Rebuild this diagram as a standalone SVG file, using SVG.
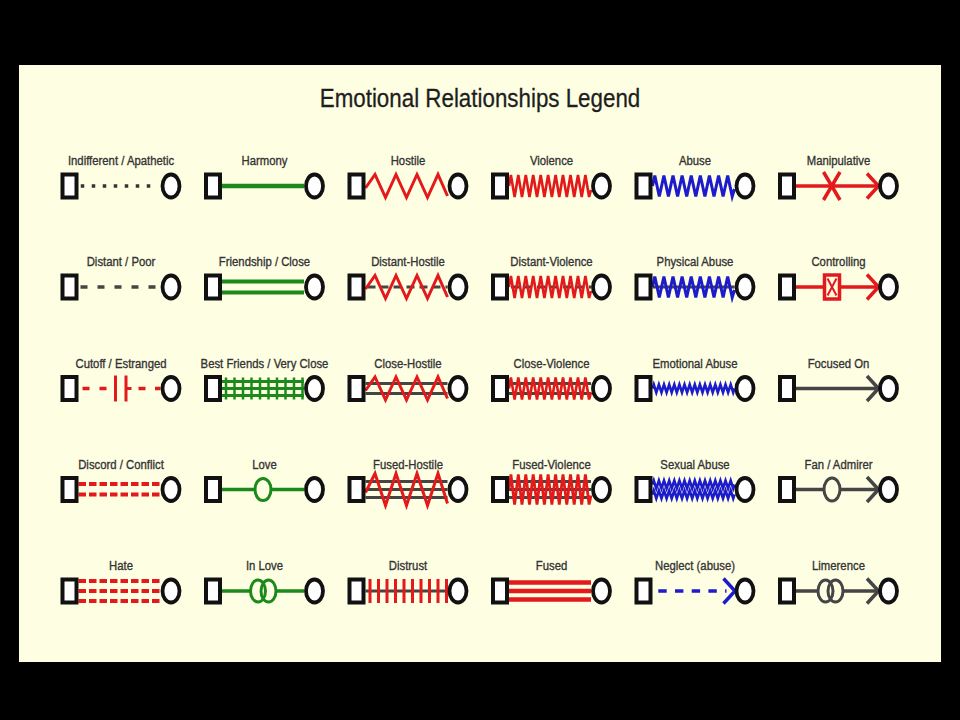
<svg xmlns="http://www.w3.org/2000/svg" xmlns:xlink="http://www.w3.org/1999/xlink" width="960" height="720" viewBox="0 0 960 720">
<style>
.lbl{font-family:"Liberation Sans",Arial,sans-serif;font-size:13.5px;fill:#333;stroke:#333;stroke-width:0.35px;text-anchor:middle}
.ttl{font-family:"Liberation Sans",Arial,sans-serif;font-size:26px;fill:#1e1e1e;stroke:#1e1e1e;stroke-width:0.3px;text-anchor:middle}
.red{stroke:#e3191b;fill:none}
.grn{stroke:#1b8a1b;fill:none}
.blu{stroke:#1c1ccc;fill:none}
.gry{stroke:#454545;fill:none}
.dk{stroke:#333;fill:none}
.w3{stroke-width:3}
.w35{stroke-width:3.5}
.w4{stroke-width:4}
</style>
<defs>
<rect id="sq" x="2" y="-11.5" width="14" height="23" fill="#fff" stroke="#111" stroke-width="4"/>
<ellipse id="ci" cx="110.5" cy="0" rx="8.5" ry="11.5" fill="#fff" stroke="#111" stroke-width="3.8"/>
<polyline id="zzH" fill="none" points="18,2 27.5,-11.5 38,11.5 48.5,-11.5 59,11.5 69.5,-11.5 80,11.5 90.5,-11.5 100,10"/>
<polyline id="zzHF" fill="none" points="18,3 27.5,-16 38,16 48.5,-16 59,16 69.5,-16 80,16 90.5,-16 100,14"/>
<polyline id="zzV" fill="none" points="18,0 19.9,-11 23.6,11 27.3,-11 31,11 34.8,-11 38.5,11 42.2,-11 46,11 49.7,-11 53.4,11 57.1,-11 60.9,11 64.6,-11 68.3,11 72,-11 75.8,11 79.5,-11 83.2,11 87,-11 90.7,11 94.4,-11 98.1,11 100,4"/>
<polyline id="zzVF" fill="none" points="18,0 19.9,-15 23.6,15 27.3,-15 31,15 34.8,-15 38.5,15 42.2,-15 46,15 49.7,-15 53.4,15 57.1,-15 60.9,15 64.6,-15 68.3,15 72,-15 75.8,15 79.5,-15 83.2,15 87,-15 90.7,15 94.4,-15 98.1,15 100,6"/>
<polyline id="zzA" fill="none" points="18,0 20.3,-10.5 24.8,10.5 29.4,-10.5 33.9,10.5 38.5,-10.5 43.1,10.5 47.6,-10.5 52.2,10.5 56.7,-10.5 61.3,10.5 65.8,-10.5 70.4,10.5 74.9,-10.5 79.5,10.5 84.1,-10.5 88.6,10.5 93.2,-10.5 97.7,10.5 100,3"/>
<polyline id="zzE" fill="none" points="18,0 19.3,-4 21.8,4 24.4,-4 27,4 29.5,-4 32.1,4 34.7,-4 37.2,4 39.8,-4 42.3,4 44.9,-4 47.5,4 50,-4 52.6,4 55.2,-4 57.7,4 60.3,-4 62.8,4 65.4,-4 68,4 70.5,-4 73.1,4 75.7,-4 78.2,4 80.8,-4 83.3,4 85.9,-4 88.5,4 91,-4 93.6,4 96.2,-4 98.7,4 100,0"/>
<path id="chev" fill="none" d="M89,-12.5 L100.5,0 L89,12.5"/>
</defs>

<rect x="0" y="0" width="960" height="720" fill="#000"/>
<rect x="19" y="65" width="922" height="597" fill="#fefee3"/>
<text class="ttl" transform="translate(480 107) scale(0.86 1)">Emotional Relationships Legend</text>

<g id="connectors"></g>

<!-- Column 1 -->
<g id="indifferent" transform="translate(60.5 186)">
<text class="lbl" transform="translate(60.5 -21) scale(0.84 1)">Indifferent / Apathetic</text>
<line x1="20.25" y1="0" x2="90" y2="0" class="dk w35" stroke-dasharray="3.5 7.5"/>
<use href="#sq"/><use href="#ci"/>
</g>
<g id="distant" transform="translate(60.5 287)">
<text class="lbl" transform="translate(60.5 -21) scale(0.84 1)">Distant / Poor</text>
<line x1="20" y1="0" x2="95" y2="0" class="gry w35" stroke-dasharray="7 10"/>
<use href="#sq"/><use href="#ci"/>
</g>
<g id="cutoff" transform="translate(60.5 388.5)">
<text class="lbl" transform="translate(60.5 -21) scale(0.84 1)">Cutoff / Estranged</text>
<line x1="22" y1="0" x2="46" y2="0" class="red w35" stroke-dasharray="7 10"/>
<path d="M55,-13 V13 M65.5,-13 V13 M65.5,0 H71" class="red w3"/>
<line x1="78" y1="0" x2="100" y2="0" class="red w35" stroke-dasharray="7 9.5"/>
<use href="#sq"/><use href="#ci"/>
</g>
<g id="discord" transform="translate(60.5 489.5)">
<text class="lbl" transform="translate(60.5 -21) scale(0.84 1)">Discord / Conflict</text>
<path d="M18,-5.5 H100 M18,5 H100" class="red w4" stroke-dasharray="7.5 3"/>
<use href="#sq"/><use href="#ci"/>
</g>
<g id="hate" transform="translate(60.5 591)">
<text class="lbl" transform="translate(60.5 -21) scale(0.84 1)">Hate</text>
<path d="M18,-10 H100 M18,0 H100 M18,10 H100" class="red w4" stroke-dasharray="7.5 3"/>
<use href="#sq"/><use href="#ci"/>
</g>

<!-- Column 2 -->
<g id="harmony" transform="translate(204 186)">
<text class="lbl" transform="translate(60.5 -21) scale(0.84 1)">Harmony</text>
<line x1="18" y1="0" x2="100" y2="0" class="grn" stroke-width="4.5"/>
<use href="#sq"/><use href="#ci"/>
</g>
<g id="friendship" transform="translate(204 287)">
<text class="lbl" transform="translate(60.5 -21) scale(0.84 1)">Friendship / Close</text>
<path d="M18,-5.5 H100 M18,5.5 H100" class="grn w4"/>
<use href="#sq"/><use href="#ci"/>
</g>
<g id="best-friends" transform="translate(204 388.5)">
<text class="lbl" transform="translate(60.5 -21) scale(0.84 1)">Best Friends / Very Close</text>
<path d="M18,-7 H100 M18,0 H100 M18,7 H100" class="grn w3"/>
<path d="M22,-11 V11 M30.5,-11 V11 M39,-11 V11 M47.5,-11 V11 M56,-11 V11 M64.5,-11 V11 M73,-11 V11 M81.5,-11 V11 M90,-11 V11 M98.5,-11 V11" class="grn" stroke-width="2.5"/>
<use href="#sq"/><use href="#ci"/>
</g>
<g id="love" transform="translate(204 489.5)">
<text class="lbl" transform="translate(60.5 -21) scale(0.84 1)">Love</text>
<line x1="18" y1="0" x2="100" y2="0" class="grn w35"/>
<ellipse cx="59" cy="0" rx="8" ry="11" fill="#fefee3" stroke="#1b8a1b" stroke-width="3"/>
<use href="#sq"/><use href="#ci"/>
</g>
<g id="in-love" transform="translate(204 591)">
<text class="lbl" transform="translate(60.5 -21) scale(0.84 1)">In Love</text>
<path d="M18,0 H46 M72,0 H100" class="grn w35"/>
<ellipse cx="54" cy="0" rx="7.5" ry="11" class="grn w3"/>
<ellipse cx="64.5" cy="0" rx="7.5" ry="11" class="grn w3"/>
<use href="#sq"/><use href="#ci"/>
</g>

<!-- Column 3 -->
<g id="hostile" transform="translate(347.5 186)">
<text class="lbl" transform="translate(60.5 -21) scale(0.84 1)">Hostile</text>
<use href="#zzH" class="red w3"/>
<use href="#sq"/><use href="#ci"/>
</g>
<g id="distant-hostile" transform="translate(347.5 287)">
<text class="lbl" transform="translate(60.5 -21) scale(0.84 1)">Distant-Hostile</text>
<line x1="20" y1="0" x2="100" y2="0" class="gry w3" stroke-dasharray="8 5"/>
<use href="#zzH" class="red w3"/>
<use href="#sq"/><use href="#ci"/>
</g>
<g id="close-hostile" transform="translate(347.5 388.5)">
<text class="lbl" transform="translate(60.5 -21) scale(0.84 1)">Close-Hostile</text>
<path d="M18,-5 H100 M18,5 H100" class="gry w3"/>
<use href="#zzH" class="red w3"/>
<use href="#sq"/><use href="#ci"/>
</g>
<g id="fused-hostile" transform="translate(347.5 489.5)">
<text class="lbl" transform="translate(60.5 -21) scale(0.84 1)">Fused-Hostile</text>
<path d="M18,-8 H100 M18,0 H100 M18,8 H100" class="gry w3"/>
<use href="#zzHF" class="red w3"/>
<use href="#sq"/><use href="#ci"/>
</g>
<g id="distrust" transform="translate(347.5 591)">
<text class="lbl" transform="translate(60.5 -21) scale(0.84 1)">Distrust</text>
<line x1="18" y1="0" x2="100" y2="0" class="gry w3"/>
<path d="M22.5,-12 V12 M31,-12 V12 M39.5,-12 V12 M48,-12 V12 M56.5,-12 V12 M65,-12 V12 M73.5,-12 V12 M82,-12 V12 M90.5,-12 V12 M99,-12 V12" class="red w3"/>
<use href="#sq"/><use href="#ci"/>
</g>

<!-- Column 4 -->
<g id="violence" transform="translate(491 186)">
<text class="lbl" transform="translate(60.5 -21) scale(0.84 1)">Violence</text>
<use href="#zzV" class="red" stroke-width="2.6"/>
<use href="#sq"/><use href="#ci"/>
</g>
<g id="distant-violence" transform="translate(491 287)">
<text class="lbl" transform="translate(60.5 -21) scale(0.84 1)">Distant-Violence</text>
<line x1="20" y1="0" x2="100" y2="0" class="gry w3" stroke-dasharray="8 5"/>
<use href="#zzV" class="red" stroke-width="2.6"/>
<use href="#sq"/><use href="#ci"/>
</g>
<g id="close-violence" transform="translate(491 388.5)">
<text class="lbl" transform="translate(60.5 -21) scale(0.84 1)">Close-Violence</text>
<path d="M18,-5 H100 M18,5 H100" class="gry w3"/>
<use href="#zzV" class="red" stroke-width="2.6"/>
<use href="#sq"/><use href="#ci"/>
</g>
<g id="fused-violence" transform="translate(491 489.5)">
<text class="lbl" transform="translate(60.5 -21) scale(0.84 1)">Fused-Violence</text>
<path d="M18,-8 H100 M18,0 H100 M18,8 H100" class="gry w3"/>
<use href="#zzVF" class="red" stroke-width="2.8"/>
<use href="#sq"/><use href="#ci"/>
</g>
<g id="fused" transform="translate(491 591)">
<text class="lbl" transform="translate(60.5 -21) scale(0.84 1)">Fused</text>
<path d="M18,-8.5 H100 M18,0 H100 M18,8.5 H100" class="red" stroke-width="4.5"/>
<use href="#sq"/><use href="#ci"/>
</g>

<!-- Column 5 -->
<g id="abuse" transform="translate(634.5 186)">
<text class="lbl" transform="translate(60.5 -21) scale(0.84 1)">Abuse</text>
<use href="#zzA" class="blu w3"/>
<use href="#sq"/><use href="#ci"/>
</g>
<g id="physical-abuse" transform="translate(634.5 287)">
<text class="lbl" transform="translate(60.5 -21) scale(0.84 1)">Physical Abuse</text>
<line x1="18" y1="0" x2="100" y2="0" class="gry w3"/>
<use href="#zzA" class="blu w3"/>
<use href="#sq"/><use href="#ci"/>
</g>
<g id="emotional-abuse" transform="translate(634.5 388.5)">
<text class="lbl" transform="translate(60.5 -21) scale(0.84 1)">Emotional Abuse</text>
<use href="#zzE" class="blu" stroke-width="2.6"/>
<use href="#sq"/><use href="#ci"/>
</g>
<g id="sexual-abuse" transform="translate(634.5 489.5)">
<text class="lbl" transform="translate(60.5 -21) scale(0.84 1)">Sexual Abuse</text>
<use href="#zzE" class="blu" stroke-width="2.6" transform="translate(0 -5)"/>
<use href="#zzE" class="blu" stroke-width="2.6" transform="translate(0 5)"/>
<use href="#sq"/><use href="#ci"/>
</g>
<g id="neglect" transform="translate(634.5 591)">
<text class="lbl" transform="translate(60.5 -21) scale(0.84 1)">Neglect (abuse)</text>
<line x1="23.8" y1="0" x2="92" y2="0" class="blu w35" stroke-dasharray="8.4 8.3"/>
<use href="#chev" class="blu w35"/>
<use href="#sq"/><use href="#ci"/>
</g>

<!-- Column 6 -->
<g id="manipulative" transform="translate(778 186)">
<text class="lbl" transform="translate(60.5 -21) scale(0.84 1)">Manipulative</text>
<line x1="18" y1="0" x2="100" y2="0" class="red w35"/>
<path d="M45.5,-14 L62,14 M45.5,14 L62,-14" class="red w35"/>
<use href="#chev" class="red w35"/>
<use href="#sq"/><use href="#ci"/>
</g>
<g id="controlling" transform="translate(778 287)">
<text class="lbl" transform="translate(60.5 -21) scale(0.84 1)">Controlling</text>
<path d="M18,0 H46 M62,0 H100" class="red w35"/>
<rect x="46.5" y="-12" width="15" height="24" fill="#fefee3" stroke="#e3191b" stroke-width="3.5"/>
<path d="M49.5,-8.5 L58.5,8.5 M49.5,8.5 L58.5,-8.5" class="red" stroke-width="2"/>
<use href="#chev" class="red w35"/>
<use href="#sq"/><use href="#ci"/>
</g>
<g id="focused-on" transform="translate(778 388.5)">
<text class="lbl" transform="translate(60.5 -21) scale(0.84 1)">Focused On</text>
<line x1="18" y1="0" x2="100" y2="0" class="gry w35"/>
<use href="#chev" class="gry w35"/>
<use href="#sq"/><use href="#ci"/>
</g>
<g id="fan-admirer" transform="translate(778 489.5)">
<text class="lbl" transform="translate(60.5 -21) scale(0.84 1)">Fan / Admirer</text>
<line x1="18" y1="0" x2="100" y2="0" class="gry w35"/>
<ellipse cx="54" cy="0" rx="8" ry="11.5" fill="#fefee3" stroke="#454545" stroke-width="3"/>
<use href="#chev" class="gry w35"/>
<use href="#sq"/><use href="#ci"/>
</g>
<g id="limerence" transform="translate(778 591)">
<text class="lbl" transform="translate(60.5 -21) scale(0.84 1)">Limerence</text>
<path d="M18,0 H40 M65,0 H100" class="gry w35"/>
<ellipse cx="47.5" cy="0" rx="7.5" ry="11" class="gry w3"/>
<ellipse cx="57.5" cy="0" rx="7.5" ry="11" class="gry w3"/>
<use href="#chev" class="gry w35"/>
<use href="#sq"/><use href="#ci"/>
</g>
</svg>
